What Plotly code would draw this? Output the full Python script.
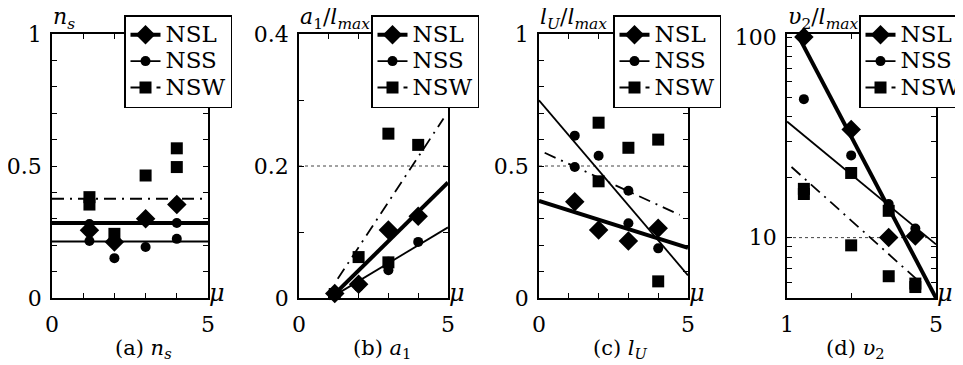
import plotly.graph_objects as go

# The page adds an 8px body margin, so the figure is 8px smaller and all
# pixel positions below (measured on the 963x365 screen) are shifted by 8.
OFF = 8
W, H = 963 - OFF, 365 - OFF
FONT = "DejaVu Serif"
SERIES = ["NSL", "NSS", "NSW"]

# ---------------- data ----------------
# (a) n_s
a_nsl_x = [1.2, 2, 3, 4]
a_nsl_y = [0.257, 0.212, 0.300, 0.354]
a_nss_x = [1.2, 1.2, 2, 3, 4, 4]
a_nss_y = [0.216, 0.280, 0.151, 0.193, 0.284, 0.224]
a_nsw_x = [1.2, 1.2, 2, 3, 4, 4]
a_nsw_y = [0.382, 0.354, 0.243, 0.464, 0.567, 0.496]
a_nsl_fit_x = [0, 5]
a_nsl_fit_y = [0.284, 0.284]
a_nss_fit_x = [0, 5]
a_nss_fit_y = [0.214, 0.214]
a_nsw_fit_x = [0, 5]
a_nsw_fit_y = [0.376, 0.376]

# (b) a1 / l_max
b_nsl_x = [1.2, 2, 3, 4]
b_nsl_y = [0.007, 0.021, 0.103, 0.124]
b_nss_x = [1.2, 2, 3, 3, 4]
b_nss_y = [0.005, 0.017, 0.055, 0.042, 0.085]
b_nsw_x = [1.2, 2, 3, 3, 4]
b_nsw_y = [0.006, 0.062, 0.249, 0.054, 0.232]
b_nsl_fit_x = [1.15, 5]
b_nsl_fit_y = [0.004, 0.175]
b_nss_fit_x = [1.2, 5]
b_nss_fit_y = [0.004, 0.107]
b_nsw_fit_x = [1.3, 4.85]
b_nsw_fit_y = [0.029, 0.272]

# (c) l_U / l_max
c_nsl_x = [1.2, 2, 3, 4]
c_nsl_y = [0.365, 0.258, 0.216, 0.264]
c_nss_x = [1.2, 1.2, 2, 3, 3, 4]
c_nss_y = [0.615, 0.496, 0.539, 0.406, 0.283, 0.188]
c_nsw_x = [2, 3, 4, 2, 4]
c_nsw_y = [0.664, 0.569, 0.600, 0.442, 0.063]
c_nsl_fit_x = [0, 5]
c_nsl_fit_y = [0.368, 0.190]
c_nss_fit_x = [0, 5]
c_nss_fit_y = [0.749, 0.086]
c_nsw_fit_x = [0.19, 4.72]
c_nsw_fit_y = [0.550, 0.315]

# (d) v2 / l_max (log-log)
d_nsl_x = [1.2, 2, 3, 4]
d_nsl_y = [100, 34.6, 10.0, 10.2]
d_nss_x = [1.2, 2, 3, 4]
d_nss_y = [49, 25.7, 14.7, 11.1]
d_nsw_x = [1.2, 1.2, 2, 2, 3, 3, 4, 4]
d_nsw_y = [17.5, 16.5, 21.0, 9.15, 13.6, 6.42, 5.67, 5.9]
d_nsl_fit_x = [1.12, 5]
d_nsl_fit_y = [103, 5]
d_nss_fit_x = [1, 5]
d_nss_fit_y = [37.9, 9.25]
d_nsw_fit_x = [1.05, 4.2]
d_nsw_fit_y = [22.5, 6.0]

# tick values / labels
lin_x_ticks = [0, 5]
lin_x_text = ["0", "5"]
lin_x_minor = [1, 2, 3, 4]
a_y_ticks = [0, 0.5, 1]
a_y_text = ["0", "0.5", "1"]
a_y_minor = [0.1, 0.2, 0.3, 0.4, 0.6, 0.7, 0.8, 0.9]
b_y_ticks = [0, 0.2, 0.4]
b_y_text = ["0", "0.2", "0.4"]
b_y_minor = [0.1, 0.3]
d_x_ticks = [1, 5]
d_x_text = ["1", "5"]
d_x_minor = [2]
d_y_ticks = [10, 100]
d_y_text = ["10", "100"]
d_y_minor = [5, 6, 7, 8, 9, 20, 30, 40, 50, 60, 70, 80, 90]

panel_data = [
    dict(pts=[(a_nsl_x, a_nsl_y), (a_nss_x, a_nss_y), (a_nsw_x, a_nsw_y)],
         fits=[(a_nsl_fit_x, a_nsl_fit_y), (a_nss_fit_x, a_nss_fit_y), (a_nsw_fit_x, a_nsw_fit_y)],
         ylabel="<i>n</i><sub><i>s</i></sub>", caption="(a) <i>n</i><sub><i>s</i></sub>",
         grid=None),
    dict(pts=[(b_nsl_x, b_nsl_y), (b_nss_x, b_nss_y), (b_nsw_x, b_nsw_y)],
         fits=[(b_nsl_fit_x, b_nsl_fit_y), (b_nss_fit_x, b_nss_fit_y), (b_nsw_fit_x, b_nsw_fit_y)],
         ylabel="<i>a</i><sub>1</sub>/<i>l</i><sub><i>max</i></sub>", caption="(b) <i>a</i><sub>1</sub>",
         grid=0.2),
    dict(pts=[(c_nsl_x, c_nsl_y), (c_nss_x, c_nss_y), (c_nsw_x, c_nsw_y)],
         fits=[(c_nsl_fit_x, c_nsl_fit_y), (c_nss_fit_x, c_nss_fit_y), (c_nsw_fit_x, c_nsw_fit_y)],
         ylabel="<i>l</i><sub><i>U</i></sub>/<i>l</i><sub><i>max</i></sub>", caption="(c) <i>l</i><sub><i>U</i></sub>",
         grid=0.5),
    dict(pts=[(d_nsl_x, d_nsl_y), (d_nss_x, d_nss_y), (d_nsw_x, d_nsw_y)],
         fits=[(d_nsl_fit_x, d_nsl_fit_y), (d_nss_fit_x, d_nss_fit_y), (d_nsw_fit_x, d_nsw_fit_y)],
         ylabel="<i>υ</i><sub>2</sub>/<i>l</i><sub><i>max</i></sub>", caption="(d) <i>υ</i><sub>2</sub>",
         grid=10),
]


# ---------------- layout geometry (screen pixels) ----------------
def PX(p):
    return (p - OFF) / W


def PY(p):
    return 1 - (p - OFF) / H


boxes = [(52, 208), (299, 448), (539, 688), (787, 936)]
TOP, BOT = 34, 298
legend_left = [124, 371, 613, 859]
caption_cx = [143, 382, 620, 855]

line_styles = [dict(width=4, dash="solid"), dict(width=1.8, dash="solid"),
               dict(width=1.8, dash="12px,6px,2px,6px")]
marker_styles = [dict(symbol="diamond", size=15), dict(symbol="circle", size=10),
                 dict(symbol="square", size=12)]

fig = go.Figure()
annotations = []
shapes = []
layout = dict(width=W, height=H, margin=dict(l=0, r=0, t=0, b=0, autoexpand=False),
              paper_bgcolor="white", plot_bgcolor="white", showlegend=True,
              font=dict(family=FONT, color="black"))

for i, pdat in enumerate(panel_data):
    n = i + 1
    sfx = "" if n == 1 else str(n)
    xa, ya = "x" + sfx, "y" + sfx
    lg = "legend" + sfx

    # legend entries
    for k, name in enumerate(SERIES):
        fig.add_trace(go.Scatter(x=[None], y=[None], mode="lines+markers",
                                 name='<span style="font-size:23px">' + name + "</span>",
                                 xaxis=xa, yaxis=ya, legend=lg, showlegend=True,
                                 line=dict(color="black", **line_styles[k]),
                                 marker=dict(color="black", **marker_styles[k])))
    # fit lines
    for k in (2, 1, 0):
        fx, fy = pdat["fits"][k]
        fig.add_trace(go.Scatter(x=fx, y=fy, mode="lines", xaxis=xa, yaxis=ya,
                                 showlegend=False, hoverinfo="skip",
                                 line=dict(color="black", **line_styles[k])))
    # points
    for k in (2, 1, 0):
        px_, py_ = pdat["pts"][k]
        fig.add_trace(go.Scatter(x=px_, y=py_, mode="markers", xaxis=xa, yaxis=ya,
                                 showlegend=False, cliponaxis=False,
                                 marker=dict(color="black", line=dict(width=0), **marker_styles[k])))

    x0, x1 = boxes[i]
    minor = dict(ticks="inside", ticklen=5, tickwidth=1, tickcolor="black")
    common = dict(showline=True, linecolor="black", linewidth=1.5, mirror="ticks",
                  ticks="inside", ticklen=5, tickwidth=1, tickcolor="black",
                  showgrid=False, zeroline=False, tickmode="array",
                  tickfont=dict(family=FONT, size=22, color="black"))
    dom_x = [PX(x0), PX(x1)]
    dom_y = [PY(BOT), PY(TOP)]
    if n < 4:
        xax = dict(domain=dom_x, anchor=ya, range=[0, 5],
                   tickvals=lin_x_ticks, ticktext=lin_x_text, ticklabelstandoff=6,
                   minor=dict(tickvals=lin_x_minor, **minor), **common)
    else:
        xax = dict(domain=dom_x, anchor=ya, type="log", range=[0, 0.69897],
                   tickvals=d_x_ticks, ticktext=d_x_text, ticklabelstandoff=6,
                   minor=dict(tickvals=d_x_minor, **minor), **common)
    if n in (1, 3):
        yax = dict(domain=dom_y, anchor=xa, range=[0, 1],
                   tickvals=a_y_ticks, ticktext=a_y_text, ticklabelstandoff=4,
                   minor=dict(tickvals=a_y_minor, **minor), **common)
    elif n == 2:
        yax = dict(domain=dom_y, anchor=xa, range=[0, 0.4],
                   tickvals=b_y_ticks, ticktext=b_y_text, ticklabelstandoff=4,
                   minor=dict(tickvals=b_y_minor, **minor), **common)
    else:
        yax = dict(domain=dom_y, anchor=xa, type="log", range=[0.69897, 2.015],
                   tickvals=d_y_ticks, ticktext=d_y_text, ticklabelstandoff=4,
                   minor=dict(tickvals=d_y_minor, **minor), **common)
    layout["xaxis" + sfx] = xax
    layout["yaxis" + sfx] = yax

    layout[lg] = dict(x=PX(legend_left[i]), y=PY(15), xanchor="left", yanchor="top",
                      xref="paper", yref="paper",
                      bgcolor="white", bordercolor="black", borderwidth=1.5,
                      font=dict(family=FONT, size=18, color="black"),
                      tracegroupgap=0, itemsizing="trace")

    if pdat["grid"] is not None:
        shapes.append(dict(type="line", xref=xa + " domain", yref=ya, x0=0, x1=1,
                           y0=pdat["grid"], y1=pdat["grid"], layer="below",
                           line=dict(color="#444", width=1, dash="dot")))

    # y-axis title at top-left
    annotations.append(dict(text=pdat["ylabel"], x=PX(x0 - 1), y=PY(35), xref="paper", yref="paper",
                            xanchor="left", yanchor="bottom", showarrow=False,
                            font=dict(family=FONT, size=22, color="black")))
    # mu at right end of x-axis
    annotations.append(dict(text="<i>μ</i>", x=PX(x1 - 1), y=PY(293), xref="paper", yref="paper",
                            xanchor="left", yanchor="middle", showarrow=False,
                            font=dict(family=FONT, size=24, color="black")))
    # caption
    annotations.append(dict(text=pdat["caption"], x=PX(caption_cx[i]), y=PY(349),
                            xref="paper", yref="paper", xanchor="center", yanchor="middle",
                            showarrow=False, font=dict(family=FONT, size=21, color="black")))

layout["annotations"] = annotations
layout["shapes"] = shapes
fig.update_layout(**layout)
fig.write_html("out.html")
